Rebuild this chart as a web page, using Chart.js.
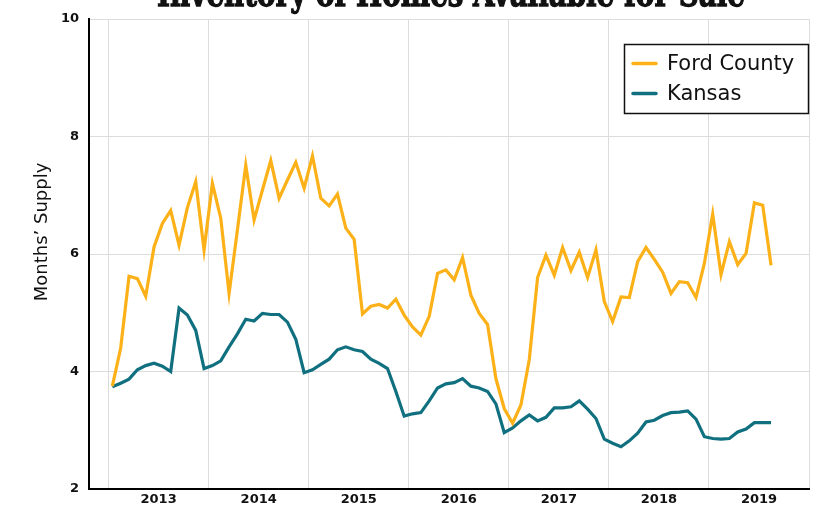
<!DOCTYPE html>
<html><head><meta charset="utf-8">
<script src="https://cdn.jsdelivr.net/npm/chart.js@4/dist/chart.umd.min.js"></script>
<style>html,body{margin:0;padding:0;background:#fff;overflow:hidden}#wrap{position:relative;width:817px;height:508px}</style>
</head><body><div id="wrap"><canvas id="c" width="817" height="508"></canvas></div>
<script>
const chartTitle = 'Inventory of Homes Available for Sale';
const yAxisTitle = 'Months\u2019 Supply';
const yearLabels = [2013, 2014, 2015, 2016, 2017, 2018, 2019];
const yTickValues = [2, 4, 6, 8, 10];
const seriesNames = ['Ford County', 'Kansas'];
const seriesColors = ['#FBB117', '#10707F'];
// monthly values, Jan 2013 .. Aug 2019
const fordCounty = [
  3.75,4.40,5.62,5.58,5.28,6.12,6.52,6.74,6.15,6.79,7.23,6.07,
  7.20,6.61,5.33,6.41,7.51,6.58,7.09,7.59,6.95,7.26,7.56,7.12,
  7.67,6.95,6.82,7.02,6.44,6.25,4.98,5.11,5.14,5.08,5.23,4.96,
  4.76,4.62,4.94,5.67,5.73,5.56,5.94,5.30,4.99,4.80,3.88,3.37,
  3.12,3.43,4.20,5.60,5.98,5.64,6.11,5.72,6.03,5.60,6.07,5.19,
  4.85,5.27,5.26,5.87,6.11,5.91,5.69,5.33,5.53,5.51,5.26,5.84,
  6.68,5.65,6.21,5.82,6.01,6.87,6.83,5.81
];
const kansas = [
  3.74,3.80,3.87,4.03,4.10,4.14,4.09,4.00,5.08,4.96,4.70,4.05,
  4.10,4.18,4.42,4.64,4.89,4.86,4.99,4.97,4.97,4.84,4.55,3.98,
  4.03,4.12,4.21,4.37,4.42,4.37,4.34,4.21,4.14,4.05,3.66,3.24,
  3.28,3.30,3.50,3.72,3.79,3.81,3.88,3.75,3.72,3.66,3.45,2.96,
  3.04,3.16,3.26,3.16,3.22,3.38,3.38,3.40,3.50,3.36,3.20,2.85,
  2.78,2.72,2.82,2.95,3.14,3.17,3.25,3.30,3.31,3.33,3.19,2.89,
  2.86,2.85,2.86,2.97,3.02,3.13,3.13,3.13
];

const FONT = '"DejaVu Sans", sans-serif';
const toPoints = arr => arr.map((v, i) => ({ x: i + 0.45, y: v }));

const decor = {
  id: 'decor',
  afterDraw(chart) {
    const ctx = chart.ctx, ca = chart.chartArea;
    ctx.save();
    // title (partly above the canvas)
    ctx.fillStyle = '#111';
    let size = 26;
    ctx.font = `bold ${size}px "DejaVu Serif", serif`;
    const w = ctx.measureText(chartTitle).width;
    size = size * 588 / w;
    ctx.font = `bold ${size}px "DejaVu Serif", serif`;
    ctx.textAlign = 'center';
    ctx.textBaseline = 'alphabetic';
    ctx.save();
    ctx.translate((ca.left + ca.right) / 2 + 2, 6);
    ctx.scale(1, 1.3);
    ctx.lineWidth = 1;
    ctx.strokeStyle = '#111';
    ctx.fillText(chartTitle, 0, 0);
    ctx.strokeText(chartTitle, 0, 0);
    ctx.restore();
    // y title
    ctx.save();
    ctx.translate(42, 232);
    ctx.rotate(-Math.PI / 2);
    ctx.font = `18px ${FONT}`;
    ctx.textAlign = 'center';
    ctx.textBaseline = 'middle';
    ctx.fillStyle = '#111';
    ctx.fillText(yAxisTitle, 0, 0);
    ctx.restore();
    // legend
    const bx = ca.right - 185, by = ca.top + 25, bw = 184, bh = 69;
    ctx.fillStyle = '#fff';
    ctx.fillRect(bx, by, bw, bh);
    ctx.lineWidth = 1.5;
    ctx.strokeStyle = '#111';
    ctx.strokeRect(bx + 0.5, by + 0.5, bw, bh);
    chart.data.datasets.forEach((ds, k) => {
      const yy = by + 19.5 + k * 30;
      ctx.beginPath();
      ctx.lineCap = 'round';
      ctx.lineWidth = 3.5;
      ctx.strokeStyle = ds.borderColor;
      ctx.moveTo(bx + 9, yy);
      ctx.lineTo(bx + 32, yy);
      ctx.stroke();
      ctx.fillStyle = '#111';
      ctx.font = `21px ${FONT}`;
      ctx.textAlign = 'left';
      ctx.textBaseline = 'middle';
      ctx.fillText(ds.label, bx + 43, yy + 1);
    });
    ctx.restore();
  }
};

new Chart(document.getElementById('c'), {
  type: 'line',
  data: {
    datasets: [
      { label: seriesNames[0], data: toPoints(fordCounty), borderColor: seriesColors[0], backgroundColor: seriesColors[0], borderWidth: 3.2, pointRadius: 0, tension: 0 },
      { label: seriesNames[1], data: toPoints(kansas), borderColor: seriesColors[1], backgroundColor: seriesColors[1], borderWidth: 3.2, pointRadius: 0, tension: 0 }
    ]
  },
  options: {
    responsive: false,
    animation: false,
    devicePixelRatio: 1,
    layout: { padding: { top: 19, right: 8, left: 0, bottom: 0 } },
    plugins: { legend: { display: false }, title: { display: false }, tooltip: { enabled: false } },
    scales: {
      x: {
        type: 'linear',
        min: -2.35,
        max: 84,
        afterBuildTicks: s => { s.ticks = yearLabels.map((y, i) => ({ value: i * 12 + 6 })); },
        afterFit: s => { s.height = 19; },
        grid: { offset: true, color: '#dcdcdc', lineWidth: 1, drawTicks: false },
        border: { display: true, color: '#000', width: 2 },
        ticks: {
          padding: 3,
          color: '#111',
          font: { family: FONT, weight: 'bold', size: 13 },
          callback: v => String(yearLabels[0] + Math.round((v - 6) / 12)),
          maxRotation: 0,
          autoSkip: false
        }
      },
      y: {
        min: 2,
        max: 10,
        afterBuildTicks: s => { s.ticks = yTickValues.map(v => ({ value: v })); },
        afterFit: s => { s.width = 89; },
        grid: { color: '#dcdcdc', lineWidth: 1, drawTicks: false },
        border: { display: true, color: '#000', width: 2 },
        ticks: { padding: 10, color: '#111', font: { family: FONT, weight: 'bold', size: 13 } }
      }
    }
  },
  plugins: [decor]
});
</script>
</body></html>
